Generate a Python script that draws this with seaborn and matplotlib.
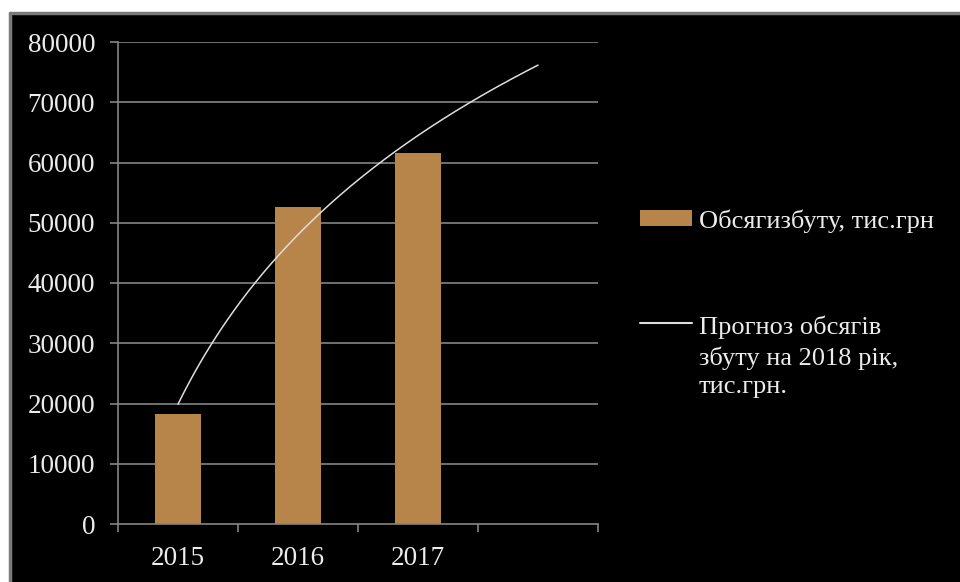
import numpy as np
import pandas as pd
import matplotlib
matplotlib.use("Agg")
import matplotlib.pyplot as plt
from matplotlib.patches import Rectangle, Patch
from matplotlib.lines import Line2D
from matplotlib.legend_handler import HandlerLine2D
import seaborn as sns

# Sales volume by year, thousand UAH
years = ["2015", "2016", "2017"]
sales = [18200, 52600, 61600]
bar_label = "Обсягизбуту, тис.грн"
trend_label = "Прогноз обсягів\nзбуту на 2018 рік,\nтис.грн."
y_ticks = [0, 10000, 20000, 30000, 40000, 50000, 60000, 70000, 80000]

sns.set_theme(style="dark")
plt.rcParams["font.family"] = ["Liberation Serif", "DejaVu Serif"]

BAR = "#b7844a"
GRID = "#858585"
TXT = "#ececec"
LINE = "#dedede"


class HandlerTopLine(HandlerLine2D):
    """Legend line drawn level with the first row of a multi-line label."""

    def __init__(self, lift, **kw):
        super().__init__(**kw)
        self.lift = lift

    def create_artists(self, legend, orig_handle, xdescent, ydescent, width, height,
                       fontsize, trans):
        arts = super().create_artists(legend, orig_handle, xdescent, ydescent,
                                      width, height, fontsize, trans)
        for a in arts:
            a.set_ydata(np.asarray(a.get_ydata()) + self.lift)
        return arts


fig = plt.figure(figsize=(9.6, 5.82), dpi=100, facecolor="black")

# white page margin above and left of the dark chart area, with a grey frame
W, H = 960, 582
fig.patches.append(Rectangle((0, 1 - 13 / H), 1, 13 / H, transform=fig.transFigure,
                             facecolor="white", edgecolor="none", zorder=0))
fig.patches.append(Rectangle((0, 0), 9 / W, 1, transform=fig.transFigure,
                             facecolor="white", edgecolor="none", zorder=0))
fig.add_artist(Line2D([10 / W, 1], [1 - 13 / H, 1 - 13 / H], transform=fig.transFigure,
                      color="#7a7a7a", lw=2.5))
fig.add_artist(Line2D([10 / W, 10 / W], [0, 1 - 13 / H], transform=fig.transFigure,
                      color="#7a7a7a", lw=2.5))

ax = fig.add_axes([118 / W, 58 / H, 480 / W, 482 / H])
ax.set_facecolor("black")

df = pd.DataFrame({"year": years, "sales": sales})
sns.barplot(data=df, x="year", y="sales", color=BAR, width=0.39, saturation=1,
            linewidth=0, edgecolor=BAR, ax=ax, zorder=2)

# logarithmic trend fitted to the yearly values, extended one year ahead
xi = np.arange(1, len(sales) + 1)
a, b = np.polyfit(np.log(xi), np.array(sales, dtype=float), 1)
xs = np.linspace(1, len(sales) + 1, 200)
ax.plot(xs - 1, a * np.log(xs) + b, color=LINE, lw=1.1, zorder=3)

ax.set_xlim(-0.5, len(years) + 0.5)
ax.set_ylim(0, 80000)
ax.set_yticks(y_ticks)
ax.set_yticklabels([str(v) for v in y_ticks])
ax.set_xticks(range(len(years)))
ax.set_xticklabels(years)
ax.set_xticks(np.arange(-0.5, len(years) + 1, 1), minor=True)
ax.set_xlabel("")
ax.set_ylabel("")

ax.set_axisbelow(True)
ax.grid(False)
for v in y_ticks[1:]:
    ax.axhline(v, color=GRID, lw=1.2, zorder=1)

for s in ["top", "right"]:
    ax.spines[s].set_visible(False)
for s in ["left", "bottom"]:
    ax.spines[s].set_visible(True)
    ax.spines[s].set_color(GRID)
    ax.spines[s].set_linewidth(1.2)

ax.tick_params(axis="y", which="major", length=6, width=1.2, color=GRID, direction="out",
               labelsize=19.5, labelcolor=TXT, pad=10.5, left=True)
ax.tick_params(axis="x", which="major", length=0, labelsize=19.5, labelcolor=TXT, pad=16)
ax.tick_params(axis="x", which="minor", length=6, width=1.2, color=GRID, direction="out",
               bottom=True)

trend_handle = Line2D([0], [0], color=LINE, lw=1.5)
handles = [Patch(facecolor=BAR, edgecolor="none"), trend_handle]
leg = fig.legend(handles, [bar_label, trend_label], loc="upper left",
                 bbox_to_anchor=(640 / W, 1 - 209 / H), frameon=False,
                 fontsize=19, labelcolor=TXT, handlelength=1.97, handleheight=0.53,
                 handletextpad=0.25, labelspacing=3.15, borderpad=0, borderaxespad=0,
                 handler_map={trend_handle: HandlerTopLine(lift=24.5)})
for t in leg.get_texts():
    t.set_linespacing(1.38)

fig.savefig("out.png", dpi=100, facecolor=fig.get_facecolor())
